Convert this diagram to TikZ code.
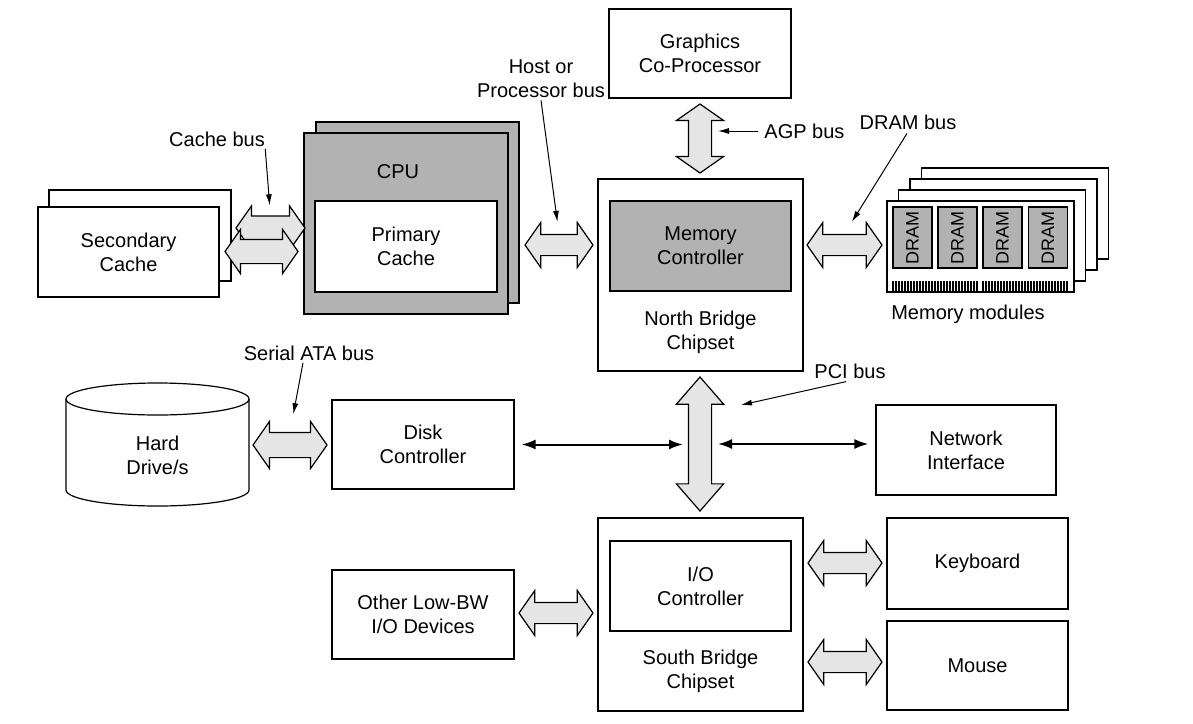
\documentclass[tikz,border=0pt]{standalone}
\usepackage{fontspec}
\setmainfont{Liberation Sans}
\usetikzlibrary{positioning}
\usetikzlibrary{calc}
\usetikzlibrary{shapes.arrows}
\usetikzlibrary{arrows.meta}
\tikzset{blk/.style={draw, line width=0.6pt, fill=white, align=center, inner sep=0pt}}
\tikzset{chip/.style={blk, fill=gray!60}}
\tikzset{busarrow/.style={double arrow, draw, line width=0.6pt, fill=gray!20, inner xsep=0pt, inner ysep=5pt, double arrow head extend=6pt, double arrow tip angle=110, minimum height=#1}}
\tikzset{lbl/.style={align=center, inner sep=1pt}}
\tikzset{ptr/.style={-{Latex[length=5.5pt,width=3pt]}, line width=0.5pt}}
\tikzset{link/.style={{Latex[length=7pt,width=5pt]}-{Latex[length=7pt,width=5pt]}, line width=1pt}}

\begin{document}
\begin{tikzpicture}[x=0.5pt, y=-0.5pt, on grid, font=\fontsize{10}{12}\selectfont]
        \useasboundingbox (0,0) rectangle (1193,723);

        % north side
        \node[blk, minimum width=91pt, minimum height=44.5pt] (gfx) at (700,53.5) {Graphics\\Co-Processor};
        \node[blk, minimum width=102.5pt, minimum height=96pt] (nb) at (700.5,275) {};
        \node[chip, minimum width=90.5pt, minimum height=45pt] (memctl) at (700.5,246) {Memory\\Controller};
        \node[lbl, below=43pt of memctl] (nblbl) {North Bridge\\Chipset};

        \node[blk, minimum width=91pt, minimum height=45.5pt] (sc2) at (140,235.5) {};
        \node[blk, minimum width=90.5pt, minimum height=45pt] (sc) at (128.5,252) {Secondary\\Cache};

        \node[chip, minimum width=101.5pt, minimum height=90.5pt] (cpu2) at (417.5,212.5) {};
        \node[chip, minimum width=102pt, minimum height=90.5pt] (cpu) at (406,223.5) {};
        \node[blk, minimum width=91pt, minimum height=45.5pt] (pc) at (406,246.5) {Primary\\Cache};
        \node[lbl] (cpulbl) at (398,172) {CPU};

        % memory modules
        \foreach \i in {3,2,1}
          \node[blk, minimum width=93.5pt, minimum height=45.5pt] (mm\i) at ($(980.5,246.5)+(\i*11.5,-\i*11)$) {};
        \node[blk, minimum width=93.5pt, minimum height=45.5pt] (mm) at (980.5,246.5) {};
        \foreach \i/\x in {1/912.5,2/957.5,3/1002.5,4/1048}
          \node[chip, rotate=90, minimum width=30.5pt, minimum height=19.5pt, font=\fontsize{9}{11}\selectfont] (d\i) at (\x,237.5) {DRAM};
        \foreach \x in {893,896,...,977} \draw[line width=0.9pt] (\x,281) -- (\x,291.5);
        \foreach \x in {983,986,...,1068} \draw[line width=0.9pt] (\x,281) -- (\x,291.5);
        \node[lbl] (mmlbl) at (968,314) {Memory modules};

        % south side
        \draw[line width=0.6pt, fill=white] (66,399) -- (66,490) arc[start angle=180, end angle=360, x radius=45.75pt, y radius=8pt] -- (249,399);
        \draw[line width=0.6pt, fill=white] (157.5,399) ellipse[x radius=45.75pt, y radius=8pt];
        \node[lbl] (hdd) at (157.5,455) {Hard\\Drive/s};

        \node[blk, minimum width=91pt, minimum height=44.5pt] (disk) at (423,444.5) {Disk\\Controller};
        \node[blk, minimum width=90pt, minimum height=45pt] (net) at (966,450) {Network\\Interface};

        \node[blk, minimum width=102.5pt, minimum height=96.5pt] (sb) at (700.5,614.5) {};
        \node[blk, minimum width=90.5pt, minimum height=45pt] (ioctl) at (700.5,586) {I/O\\Controller};
        \node[lbl, below=42.5pt of ioctl] (sblbl) {South Bridge\\Chipset};

        \node[blk, minimum width=91pt, minimum height=44.5pt] (lowbw) at (423,614.5) {Other Low-BW\\I/O Devices};
        \node[blk, minimum width=90.5pt, minimum height=45.5pt] (kbd) at (977.5,563.5) {Keyboard};
        \node[blk, minimum width=90.5pt, minimum height=44.5pt] (mouse) at (977.5,665.5) {Mouse};

        % fat buses
        \node[busarrow=34.5pt, inner ysep=5.75pt, double arrow head extend=5pt] (cache1) at (270.5,228) {};
        \node[busarrow=36.5pt, inner ysep=5.75pt, double arrow head extend=5pt] (cache2) at (261.5,251.5) {};
        \node[busarrow=34pt] (host) at (559,245) {};
        \node[busarrow=37.5pt] (dram) at (844.5,245) {};
        \node[busarrow=34.5pt, rotate=90, inner ysep=5.5pt] (agp) at (700,138.5) {};
        \node[busarrow=67pt, rotate=90, inner ysep=5.5pt, double arrow tip angle=82] (pci) at (700,444) {};
        \node[busarrow=37pt, inner ysep=6pt, double arrow head extend=5.5pt] (sata) at (290,445) {};
        \node[busarrow=37pt] (lowbus) at (556,613) {};
        \node[busarrow=37pt] (kbus) at (845,563) {};
        \node[busarrow=37pt] (mbus) at (845,662) {};

        \draw[link, shorten <=3.5pt, shorten >=8.5pt] (disk.east) -- (disk.east -| pci.center);
        \draw[link, shorten <=9pt, shorten >=3.5pt] (pci.center) -- (pci.center -| net.west);

        % labels
        \node[lbl] (cachelbl) at (217,139) {Cache bus};
        \node[lbl] (hostlbl) at (541,79) {Host or\\Processor bus};
        \node[lbl, anchor=west] (agplbl) at (762,131) {AGP bus};
        \node[lbl] (dramlbl) at (908,122) {DRAM bus};
        \node[lbl] (satalbl) at (309,353) {Serial ATA bus};
        \node[lbl] (pcilbl) at (850,371) {PCI bus};
        \coordinate (pcitip) at ($(pci.center)+(41,-39)$);

        \draw[ptr, shorten >=5pt] ([xshift=-1pt]cachelbl.south east) -- (cache1.north);
        \draw[ptr, shorten >=6pt] (hostlbl.south) -- (host.north);
        \draw[ptr, shorten <=2pt, shorten >=9pt] (agplbl.west) -- (agplbl.west -| agp.center);
        \draw[ptr, shorten <=1pt, shorten >=7pt] (dramlbl.south) -- (dram.north);
        \draw[ptr, shorten >=9pt] ([xshift=-3pt]satalbl.south) -- (sata.north);
        \draw[ptr, shorten <=2pt] (pcilbl.south) -- (pcitip);
\end{tikzpicture}
\end{document}
